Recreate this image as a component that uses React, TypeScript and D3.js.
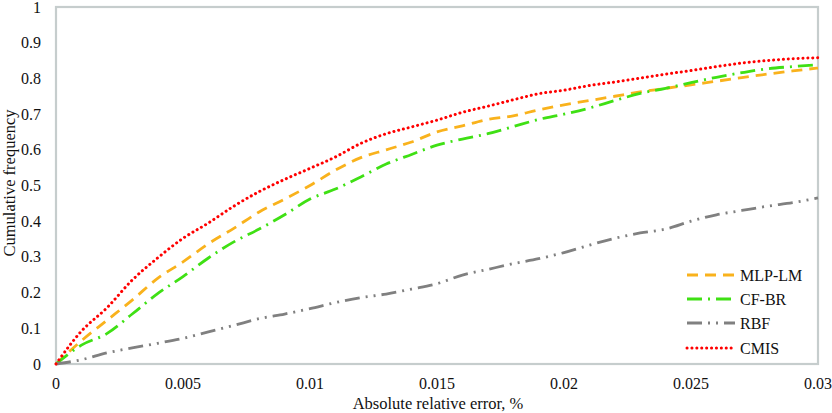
import React from "react";
import * as d3 from "d3";

const xValues = [0, 0.001, 0.002, 0.003, 0.004, 0.005, 0.006, 0.007, 0.008, 0.009, 0.01, 0.011, 0.012, 0.013, 0.014, 0.015, 0.016, 0.017, 0.018, 0.019, 0.02, 0.021, 0.022, 0.023, 0.024, 0.025, 0.026, 0.027, 0.028, 0.029, 0.03];
const mlpLM = [0, 0.065, 0.122, 0.179, 0.24, 0.286, 0.337, 0.38, 0.426, 0.462, 0.5, 0.543, 0.578, 0.6, 0.622, 0.65, 0.667, 0.685, 0.695, 0.712, 0.726, 0.738, 0.75, 0.762, 0.772, 0.782, 0.792, 0.802, 0.812, 0.821, 0.829];
const cfBR = [0, 0.053, 0.085, 0.14, 0.197, 0.245, 0.297, 0.342, 0.378, 0.418, 0.462, 0.49, 0.524, 0.56, 0.587, 0.613, 0.63, 0.645, 0.665, 0.685, 0.7, 0.717, 0.738, 0.758, 0.772, 0.788, 0.803, 0.816, 0.827, 0.833, 0.838];
const rbf = [0, 0.012, 0.031, 0.045, 0.058, 0.072, 0.09, 0.108, 0.127, 0.14, 0.155, 0.172, 0.186, 0.196, 0.21, 0.225, 0.249, 0.265, 0.281, 0.295, 0.312, 0.333, 0.352, 0.367, 0.378, 0.4, 0.418, 0.43, 0.442, 0.452, 0.465];
const cmis = [0, 0.092, 0.157, 0.235, 0.297, 0.352, 0.395, 0.442, 0.483, 0.517, 0.548, 0.58, 0.618, 0.645, 0.664, 0.683, 0.705, 0.722, 0.74, 0.757, 0.767, 0.78, 0.79, 0.801, 0.812, 0.822, 0.833, 0.843, 0.85, 0.855, 0.858];

const seriesNames = ["MLP-LM", "CF-BR", "RBF", "CMIS"];
const xTicks = [0, 0.005, 0.01, 0.015, 0.02, 0.025, 0.03];
const xTickLabels = ["0", "0.005", "0.01", "0.015", "0.02", "0.025", "0.03"];
const yTicks = [0, 0.1, 0.2, 0.3, 0.4, 0.5, 0.6, 0.7, 0.8, 0.9, 1];
const yTickLabels = ["0", "0.1", "0.2", "0.3", "0.4", "0.5", "0.6", "0.7", "0.8", "0.9", "1"];

const styles = [
  { color: "#f9b21c", dash: "11,7", cap: "butt", width: 2.8 },
  { color: "#3fe014", dash: "15,6,2,6", cap: "butt", width: 2.8 },
  { color: "#808080", dash: "15,6,2,6,2,6", cap: "butt", width: 2.8 },
  { color: "#ff0000", dash: "0.1,4.8", cap: "round", width: 3 },
];

export default function App() {
  const W = 832, H = 413;
  const left = 56, right = 818, top = 7, bottom = 364;
  const x = d3.scaleLinear().domain([0, 0.03]).range([left, right]);
  const y = d3.scaleLinear().domain([0, 1]).range([bottom, top]);
  const data = [mlpLM, cfBR, rbf, cmis];
  const line = d3.line<number>().x((_, i) => x(xValues[i])).y((d) => y(d)).curve(d3.curveMonotoneX);
  const legendX1 = 687, legendX2 = 735;
  const legendY = [275, 299, 323, 348];

  return (
    <svg width={W} height={H} fontFamily="Liberation Serif" fontSize={16}
      style={{ position: "absolute", left: 0, top: 0, background: "#fff" }}>
      <rect x={0} y={0} width={W} height={H} fill="#fff" />
      <rect x={left} y={top} width={right - left} height={bottom - top} fill="none" stroke="#c6cdcd" strokeWidth={2.2} />
      {data.map((s, k) => (
        <path key={k} d={line(s) || ""} fill="none" stroke={styles[k].color} strokeWidth={styles[k].width}
          strokeDasharray={styles[k].dash} strokeLinecap={styles[k].cap as any} />
      ))}
      <g fontFamily="Liberation Serif" fontSize={16} fill="#111">
        {yTicks.map((t, i) => (
          <text key={i} x={41} y={y(t) + 5.5} textAnchor="end">{yTickLabels[i]}</text>
        ))}
        {xTicks.map((t, i) => (
          <text key={i} x={x(t)} y={389} textAnchor="middle">{xTickLabels[i]}</text>
        ))}
        <text x={438} y={409} textAnchor="middle" fontSize={16.5}>Absolute relative error, %</text>
        <text transform="translate(15,183) rotate(-90)" textAnchor="middle" fontSize={16.5}>Cumulative frequency</text>
        {seriesNames.map((n, k) => (
          <text key={n} x={legendX2 + 5} y={legendY[k] + 5.5}>{n}</text>
        ))}
      </g>
      {seriesNames.map((n, k) => (
        <line key={n} x1={legendX1} x2={legendX2} y1={legendY[k]} y2={legendY[k]} stroke={styles[k].color} strokeWidth={styles[k].width}
          strokeDasharray={styles[k].dash} strokeLinecap={styles[k].cap as any} />
      ))}
    </svg>
  );
}
